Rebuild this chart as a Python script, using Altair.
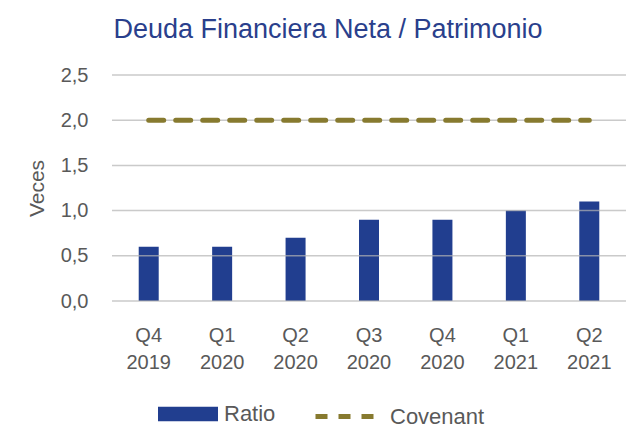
import altair as alt
import pandas as pd

periods = ["Q4 2019", "Q1 2020", "Q2 2020", "Q3 2020", "Q4 2020", "Q1 2021", "Q2 2021"]
ratio = [0.6, 0.6, 0.7, 0.9, 0.9, 1.0, 1.1]
covenant = [2.0, 2.0, 2.0, 2.0, 2.0, 2.0, 2.0]
y_ticks = [0.0, 0.5, 1.0, 1.5, 2.0, 2.5]

df = pd.DataFrame({"periodo": periods, "ratio": ratio, "covenant": covenant,
                   "s1": ["Ratio"] * len(periods), "s2": ["Covenant"] * len(periods)})
grid_df = pd.DataFrame({"v": y_ticks})

BLUE = "#213e8f"
OLIVE = "#877a2f"
GRAY = "#595959"
FONT = "Liberation Sans"

x_enc = alt.X("periodo:N", sort=periods, title=None,
              scale=alt.Scale(paddingInner=0, paddingOuter=0),
              axis=alt.Axis(labelExpr="split(datum.label, ' ')", labelAngle=0,
                            labelFontSize=20, labelColor=GRAY, labelFont=FONT,
                            labelPadding=24, labelLineHeight=27, ticks=False,
                            domain=False, grid=False))
y_scale = alt.Scale(domain=[0, 2.5], nice=False)

bars = alt.Chart(df).mark_bar(size=20).encode(
    x=x_enc,
    y=alt.Y("ratio:Q", scale=y_scale, title="Veces",
            axis=alt.Axis(values=y_ticks, grid=False, ticks=False, domain=False,
                          labelExpr="replace(format(datum.value, '.1f'), '.', ',')",
                          labelFontSize=20, labelColor=GRAY, labelFont=FONT,
                          labelPadding=24, titleFontSize=21, titleColor=GRAY,
                          titleFont=FONT, titleFontWeight="normal", titlePadding=13)),
    color=alt.Color("s1:N", title=None,
                    scale=alt.Scale(domain=["Ratio"], range=[BLUE]),
                    legend=alt.Legend(orient="none", legendX=46, legendY=309, padding=0,
                                      symbolType="M-1,-0.24L1,-0.24L1,0.24L-1,0.24Z",
                                      symbolSize=3600, symbolStrokeWidth=0, symbolOpacity=1,
                                      labelOffset=6, labelFontSize=22, labelColor=GRAY,
                                      labelFont=FONT)),
)

grid = alt.Chart(grid_df).mark_rule(color="#b4b4b4", opacity=0.7, strokeWidth=1.5).encode(
    y=alt.Y("v:Q", scale=y_scale)
)

line = alt.Chart(df).mark_line(strokeWidth=5, strokeDash=[15, 12], strokeCap="round").encode(
    x=alt.X("periodo:N", sort=periods),
    y=alt.Y("covenant:Q", scale=y_scale),
    color=alt.Color("s2:N", title=None,
                    scale=alt.Scale(domain=["Covenant"], range=[OLIVE]),
                    legend=alt.Legend(orient="none", legendX=201, legendY=309, padding=0,
                                      symbolType="stroke", symbolSize=3600,
                                      symbolStrokeWidth=5, symbolDash=[12, 11],
                                      labelOffset=12, labelFontSize=22, labelColor=GRAY,
                                      labelFont=FONT)),
)

chart = alt.layer(bars, grid, line).resolve_scale(color="independent").resolve_legend(
    color="independent"
).properties(
    width=514, height=226,
    autosize=alt.AutoSizeParams(type="none"),
    padding={"left": 104, "top": 67, "right": 7, "bottom": 133},
    title=alt.TitleParams("Deuda Financiera Neta / Patrimonio", fontSize=27, font=FONT,
                          fontWeight="normal", color="#2a3f8c", dx=-41, offset=21),
    background="white",
).configure_view(stroke=None)

chart.save("out.html", embed_options={"renderer": "svg", "actions": False})
